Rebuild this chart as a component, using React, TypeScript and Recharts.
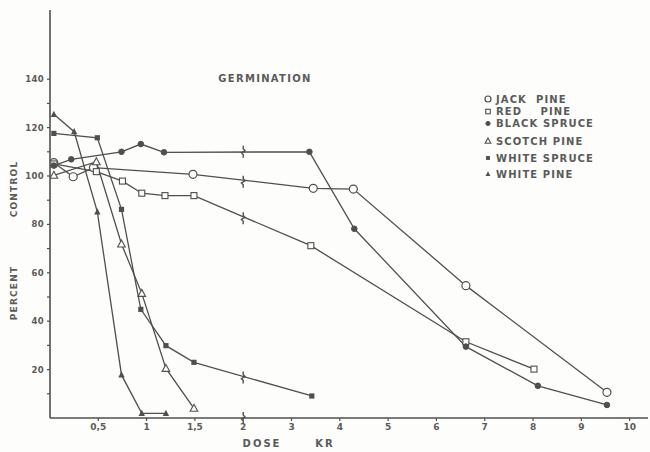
import React from 'react';
import { LineChart, Line, XAxis, YAxis, ReferenceDot } from 'recharts';

// Dose in kR (x axis is broken at 2 kR: 0–2 is stretched ×2)
const doseTicks = [0.5, 1, 1.5, 2, 3, 4, 5, 6, 7, 8, 9, 10];
const doseTickLabels = ['0,5', '1', '1,5', '2', '3', '4', '5', '6', '7', '8', '9', '10'];
const percentTicks = [10, 20, 30, 40, 50, 60, 70, 80, 90, 100, 110, 120, 130, 140];
const percentLabels = [20, 40, 60, 80, 100, 120, 140];

const jackPineDose = [0.04, 0.24, 0.45, 1.48, 3.45, 4.28, 6.61, 9.53];
const jackPinePct = [105.5, 99.7, 103.5, 100.7, 94.9, 94.6, 54.7, 10.6];

const redPineDose = [0.04, 0.48, 0.75, 0.95, 1.19, 1.49, 3.4, 6.61, 8.02];
const redPinePct = [105, 101.8, 97.9, 92.9, 91.9, 91.9, 71.2, 31.5, 20.2];

const blackSpruceDose = [0.04, 0.22, 0.74, 0.94, 1.18, 3.37, 4.3, 6.61, 8.1, 9.53];
const blackSprucePct = [104.3, 106.9, 110.0, 113.2, 109.8, 110.0, 78.2, 29.5, 13.3, 5.4];

const scotchPineDose = [0.04, 0.48, 0.74, 0.95, 1.2, 1.49];
const scotchPinePct = [100.3, 105.9, 71.9, 51.5, 20.5, 4.0];

const whiteSpruceDose = [0.04, 0.49, 0.74, 0.94, 1.2, 1.49, 3.42];
const whiteSprucePct = [117.6, 115.8, 86.2, 44.9, 29.9, 23.0, 9.1];

const whitePineDose = [0.04, 0.25, 0.49, 0.74, 0.95, 1.2];
const whitePinePct = [125.5, 118.3, 85.2, 17.8, 1.9, 1.9];

// scale-break marks drawn at 2 kR on the lines that cross it
const breakDose = 2;
const breakPct = [110, 97.6, 82.5, 16.7, 0];

const INK = '#4f4f4f';
const TEXT = '#5a5a5a';
const BG = '#fdfdfb';

const toPos = (d: number) => (d <= 2 ? d * 2 : d + 2);

type Marker = 'openCircle' | 'openSquare' | 'filledCircle' | 'openTriangle' | 'filledSquare' | 'filledTriangle';

const series: { name: string; dose: number[]; pct: number[]; marker: Marker }[] = [
  { name: 'JACK  PINE', dose: jackPineDose, pct: jackPinePct, marker: 'openCircle' },
  { name: 'RED    PINE', dose: redPineDose, pct: redPinePct, marker: 'openSquare' },
  { name: 'BLACK SPRUCE', dose: blackSpruceDose, pct: blackSprucePct, marker: 'filledCircle' },
  { name: 'SCOTCH PINE', dose: scotchPineDose, pct: scotchPinePct, marker: 'openTriangle' },
  { name: 'WHITE SPRUCE', dose: whiteSpruceDose, pct: whiteSprucePct, marker: 'filledSquare' },
  { name: 'WHITE PINE', dose: whitePineDose, pct: whitePinePct, marker: 'filledTriangle' },
];
const legendRowsY = [99, 111.5, 123.5, 141, 158, 174];

function drawMarker(marker: Marker, cx: number, cy: number, key?: string, scale = 1) {
  const k = scale;
  switch (marker) {
    case 'openCircle':
      return <circle key={key} cx={cx} cy={cy} r={4 * k} fill={BG} stroke={INK} strokeWidth={1.2} />;
    case 'openSquare':
      return <rect key={key} x={cx - 3 * k} y={cy - 3 * k} width={6 * k} height={6 * k} fill={BG} stroke={INK} strokeWidth={1.1} />;
    case 'filledCircle':
      return <circle key={key} cx={cx} cy={cy} r={2.8 * k} fill={INK} stroke={INK} />;
    case 'openTriangle':
      return (
        <path key={key} d={`M${cx},${cy - 4 * k} L${cx + 3.8 * k},${cy + 3 * k} L${cx - 3.8 * k},${cy + 3 * k} Z`} fill={BG} stroke={INK} strokeWidth={1.1} />
      );
    case 'filledSquare':
      return <rect key={key} x={cx - 2.6 * k} y={cy - 2.6 * k} width={5.2 * k} height={5.2 * k} fill={INK} />;
    case 'filledTriangle':
      return <path key={key} d={`M${cx},${cy - 3.6 * k} L${cx + 3.2 * k},${cy + 2.6 * k} L${cx - 3.2 * k},${cy + 2.6 * k} Z`} fill={INK} />;
  }
}

const BreakMark = (props: any) => {
  const { cx, cy } = props;
  return (
    <path
      d={`M${cx},${cy - 6} L${cx},${cy - 3} L${cx + 1.8},${cy - 1} L${cx - 1.8},${cy + 1} L${cx},${cy + 3} L${cx},${cy + 6}`}
      fill="none"
      stroke={INK}
      strokeWidth={1.4}
    />
  );
};

const YTick = (props: any) => {
  const { x, y, payload } = props;
  const v = payload.value;
  if (!percentLabels.includes(v)) return <g />;
  return (
    <text x={x} y={y} dy={3} textAnchor="end" fontSize={8.5} fontWeight={700} fill={TEXT} fontFamily="DejaVu Sans" letterSpacing={0.3}>
      {v}
    </text>
  );
};

const XTick = (props: any) => {
  const { x, y, payload } = props;
  const idx = doseTicks.map(toPos).indexOf(payload.value);
  return (
    <text x={x} y={y} dy={7} textAnchor="middle" fontSize={9} fontWeight={700} fill={TEXT} fontFamily="DejaVu Sans">
      {idx >= 0 ? doseTickLabels[idx] : ''}
    </text>
  );
};

export default function App() {
  return (
    <div style={{ position: 'absolute', left: 0, top: 0, width: 650, height: 452, background: BG }}>
      <LineChart width={650} height={452} margin={{ top: 10, right: 2, left: 0, bottom: 4 }}>
        <XAxis
          type="number"
          dataKey="x"
          domain={[0, 12.38]}
          ticks={doseTicks.map(toPos)}
          tick={<XTick />}
          tickSize={3}
          tickLine={{ stroke: INK, strokeWidth: 1.2 }}
          axisLine={{ stroke: INK, strokeWidth: 1.6 }}
          height={30}
          allowDataOverflow
        />
        <YAxis
          type="number"
          domain={[0, 168.6]}
          ticks={percentTicks}
          tick={<YTick />}
          tickSize={3}
          tickMargin={3}
          tickLine={{ stroke: INK, strokeWidth: 1.2 }}
          axisLine={{ stroke: INK, strokeWidth: 1.6 }}
          width={50}
          allowDataOverflow
        />
        {series.map((s) => (
          <Line
            key={s.name}
            name={s.name}
            data={s.dose.map((d, i) => ({ x: toPos(d), y: s.pct[i] }))}
            dataKey="y"
            stroke={INK}
            strokeWidth={1.3}
            isAnimationActive={false}
            dot={(p: any) => drawMarker(s.marker, p.cx, p.cy, `${s.name}-${p.index}`)}
            activeDot={false}
          />
        ))}
        {breakPct.map((v, i) => (
          <ReferenceDot key={i} x={toPos(breakDose)} y={v} r={0} shape={<BreakMark />} ifOverflow="visible" />
        ))}
      </LineChart>
      <svg width={650} height={452} style={{ position: 'absolute', left: 0, top: 0, pointerEvents: 'none' }}>
        <text x={265} y={78} dy={3.6} textAnchor="middle" fontSize={10} fontWeight={700} fill={TEXT} fontFamily="DejaVu Sans" letterSpacing={1.3}>
          GERMINATION
        </text>
        {series.map((s, i) => (
          <g key={s.name}>
            {drawMarker(s.marker, 488, legendRowsY[i], undefined, 0.75)}
            <text
              x={496}
              y={legendRowsY[i]}
              dy={3.6}
              fontSize={10}
              fontWeight={700}
              fill={TEXT}
              fontFamily="DejaVu Sans"
              letterSpacing={1.1}
              style={{ whiteSpace: 'pre' }}
            >
              {s.name}
            </text>
          </g>
        ))}
        <text x={262} y={443} dy={3.6} textAnchor="middle" fontSize={10} fontWeight={700} fill={TEXT} fontFamily="DejaVu Sans" letterSpacing={2}>
          DOSE
        </text>
        <text x={325} y={443} dy={3.6} textAnchor="middle" fontSize={10} fontWeight={700} fill={TEXT} fontFamily="DejaVu Sans" letterSpacing={2}>
          KR
        </text>
        <text transform="translate(14,189) rotate(-90)" dy={3.3} textAnchor="middle" fontSize={9} fontWeight={700} fill={TEXT} fontFamily="DejaVu Sans" letterSpacing={1.2}>
          CONTROL
        </text>
        <text transform="translate(14,293) rotate(-90)" dy={3.3} textAnchor="middle" fontSize={9} fontWeight={700} fill={TEXT} fontFamily="DejaVu Sans" letterSpacing={1.2}>
          PERCENT
        </text>
      </svg>
    </div>
  );
}
